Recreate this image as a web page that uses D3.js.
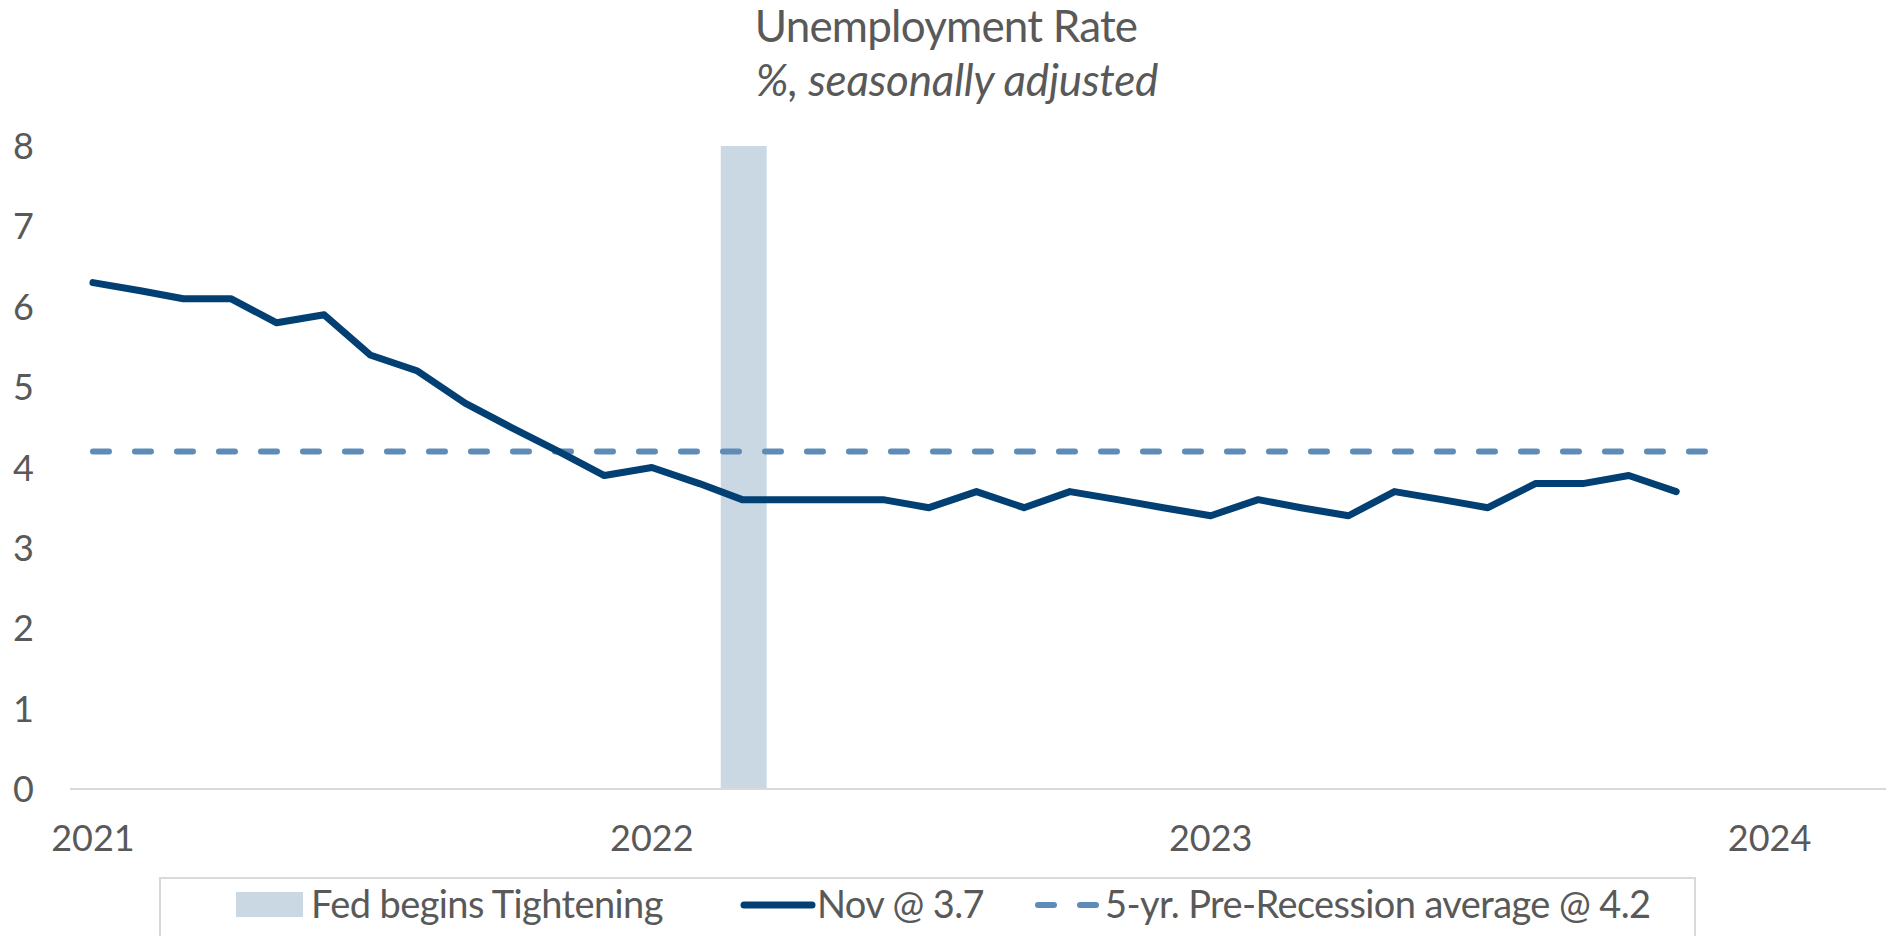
<!doctype html>
<html lang="en">
<head>
<meta charset="utf-8">
<title>Unemployment Rate</title>
<script src="https://cdn.jsdelivr.net/npm/d3@7"></script>
<style>
    body { margin: 0; background: #fff; }
    text { font-family: Lato, "Open Sans", sans-serif; fill: #595959; }
</style>
</head>
<body>
<script>
    // monthly unemployment rate, Jan 2021 - Nov 2023
    var months = ["2021-01","2021-02","2021-03","2021-04","2021-05","2021-06","2021-07","2021-08","2021-09","2021-10","2021-11","2021-12",
                  "2022-01","2022-02","2022-03","2022-04","2022-05","2022-06","2022-07","2022-08","2022-09","2022-10","2022-11","2022-12",
                  "2023-01","2023-02","2023-03","2023-04","2023-05","2023-06","2023-07","2023-08","2023-09","2023-10","2023-11"];
    var rate = [6.3, 6.2, 6.1, 6.1, 5.8, 5.9, 5.4, 5.2, 4.8, 4.5, 4.2, 3.9,
                4.0, 3.8, 3.6, 3.6, 3.6, 3.6, 3.5, 3.7, 3.5, 3.7, 3.6, 3.5,
                3.4, 3.6, 3.5, 3.4, 3.7, 3.6, 3.5, 3.8, 3.8, 3.9, 3.7];
    var avgMonths = ["2021-01", "2023-12"];
    var avgRate = 4.2;
    var tightening = ["2022-02-15", "2022-03-17"];
    var tighteningTop = 8;
    var yTicks = [0, 1, 2, 3, 4, 5, 6, 7, 8];
    var yearTicks = ["2021", "2022", "2023", "2024"];
    var legendLabels = ["Fed begins Tightening", "Nov @ 3.7", "5-yr. Pre-Recession average @ 4.2"];

    var parseMonth = d3.timeParse("%Y-%m");
    var parseDay = d3.timeParse("%Y-%m-%d");
    var parseYear = d3.timeParse("%Y");

    var svg = d3.select("body").append("svg")
        .attr("width", 1892).attr("height", 936);

    var x = d3.scaleTime()
        .domain([parseDay("2020-12-17"), parseDay("2024-03-17")])
        .range([70, 1886]);
    var y = d3.scaleLinear().domain([0, 8]).range([789, 146]);

    // title
    svg.append("text").attr("x", 946).attr("y", 42)
        .attr("text-anchor", "middle").style("font-size", "44px").style("letter-spacing", "-0.8px")
        .text("Unemployment Rate");
    svg.append("text").attr("x", 957).attr("y", 96)
        .attr("text-anchor", "middle").style("font-size", "44px").style("font-style", "italic").style("letter-spacing", "-0.2px")
        .text("%, seasonally adjusted");

    // tightening band
    svg.append("rect")
        .attr("x", x(parseDay(tightening[0])))
        .attr("y", y(tighteningTop))
        .attr("width", x(parseDay(tightening[1])) - x(parseDay(tightening[0])))
        .attr("height", y(0) - y(tighteningTop))
        .attr("fill", "#cad8e4");

    // x axis line
    svg.append("line")
        .attr("x1", x.range()[0]).attr("x2", x.range()[1])
        .attr("y1", y(0)).attr("y2", y(0))
        .attr("stroke", "#d9d9d9").attr("stroke-width", 2);

    // y tick labels
    svg.append("g").selectAll("text").data(yTicks).enter().append("text")
        .attr("x", 34).attr("y", function(d){ return y(d) + 13; })
        .attr("text-anchor", "end").style("font-size", "36px")
        .text(function(d){ return d; });

    // x tick labels
    svg.append("g").selectAll("text").data(yearTicks).enter().append("text")
        .attr("x", function(d){ return x(parseYear(d)); })
        .attr("y", 851)
        .attr("text-anchor", "middle").style("font-size", "36px")
        .text(function(d){ return d; });

    // 5-yr average
    svg.append("line")
        .attr("x1", x(parseMonth(avgMonths[0]))).attr("x2", x(parseMonth(avgMonths[1])))
        .attr("y1", y(avgRate)).attr("y2", y(avgRate))
        .attr("stroke", "#5f8bb7").attr("stroke-width", 6)
        .attr("stroke-linecap", "round").attr("stroke-dasharray", "16,26");

    // unemployment line
    var line = d3.line()
        .x(function(d, i){ return x(parseMonth(months[i])); })
        .y(function(d){ return y(d); });
    svg.append("path").datum(rate)
        .attr("d", line)
        .attr("fill", "none").attr("stroke", "#023f73").attr("stroke-width", 7)
        .attr("stroke-linejoin", "round").attr("stroke-linecap", "round");

    // legend
    var legend = svg.append("g");
    legend.append("rect").attr("x", 160).attr("y", 878).attr("width", 1535).attr("height", 90)
        .attr("fill", "none").attr("stroke", "#d9d9d9").attr("stroke-width", 2);
    legend.append("rect").attr("x", 236).attr("y", 892).attr("width", 67).attr("height", 25)
        .attr("fill", "#cad8e4");
    legend.append("text").attr("x", 311).attr("y", 918).style("font-size", "38px").style("letter-spacing", "-0.6px")
        .text(legendLabels[0]);
    legend.append("line").attr("x1", 744).attr("x2", 812).attr("y1", 905).attr("y2", 905)
        .attr("stroke", "#023f73").attr("stroke-width", 7).attr("stroke-linecap", "round");
    legend.append("text").attr("x", 817).attr("y", 918).style("font-size", "38px").style("letter-spacing", "-0.6px")
        .text(legendLabels[1]);
    legend.append("line").attr("x1", 1038).attr("x2", 1098).attr("y1", 905).attr("y2", 905)
        .attr("stroke", "#5f8bb7").attr("stroke-width", 6)
        .attr("stroke-linecap", "round").attr("stroke-dasharray", "16,26");
    legend.append("text").attr("x", 1105).attr("y", 918).style("font-size", "38px").style("letter-spacing", "-0.6px")
        .text(legendLabels[2]);
</script>
</body>
</html>
